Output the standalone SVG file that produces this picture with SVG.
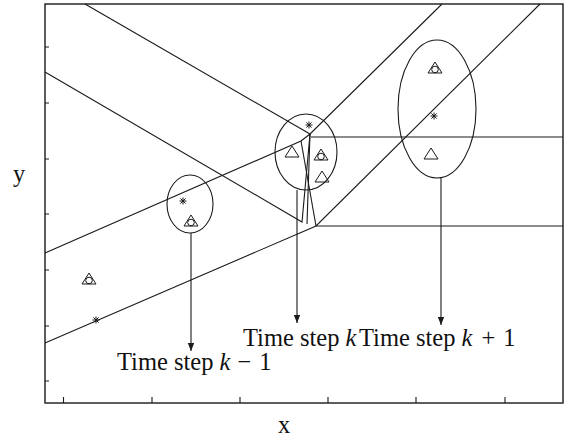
<svg xmlns="http://www.w3.org/2000/svg" width="566" height="438" viewBox="0 0 566 438">
<style>
.ln{fill:none;stroke:#1a1a1a;stroke-width:1.1}
.fr{fill:none;stroke:#1a1a1a;stroke-width:1.4}
.mk{fill:none;stroke:#1a1a1a;stroke-width:1}
.lbl{font-family:"Liberation Serif","Times New Roman",serif;font-size:24.5px;fill:#111}
.it{font-style:italic}
</style>
<defs>
<marker id="ah" viewBox="0 0 10 10" refX="10" refY="5" markerWidth="8" markerHeight="8" markerUnits="userSpaceOnUse" orient="auto">
<path d="M0,1 L10,5 L0,9 z" fill="#1a1a1a"/>
</marker>
<g id="star" class="mk"><path d="M-3.5,0H3.5M0,-3.5V3.5M-2.6,-2.6L2.6,2.6M-2.6,2.6L2.6,-2.6"/></g>
<g id="tri" class="mk"><path d="M0,-6L7,5H-7Z"/></g>
<g id="trio" class="mk"><path d="M0,-6L7,5H-7Z"/><circle cx="0" cy="1.5" r="3.3"/></g>
</defs>
<g id="frame">
<rect class="fr" x="45" y="4" width="518" height="399"/>
<path class="ln" d="M63.5,403v-6M152,403v-6M240,403v-6M328,403v-6M416,403v-6M505,403v-6"/>
<path class="ln" d="M45,47h4M45,103h4M45,159h4M45,214h4M45,270h4M45,326h4M45,381h4"/>
</g>
<g id="connectors">
<path class="ln" d="M85,4 L310,134"/>
<path class="ln" d="M45,72 L302,222 L310,134"/>
<path class="ln" d="M45,253 L301,141 L310,134 L442,4"/>
<path class="ln" d="M45,343 L316,226 L540,4"/>
<path class="ln" d="M301,141 L316,226"/>
<path class="ln" d="M310,134 L307,224"/>
<path class="ln" d="M311,137 H563"/>
<path class="ln" d="M316,226 H563"/>
<path class="ln" d="M191,233 V351" marker-end="url(#ah)"/>
<path class="ln" d="M297,190 V323" marker-end="url(#ah)"/>
<path class="ln" d="M441,178 V325" marker-end="url(#ah)"/>
</g>
<g id="step-k-minus-1">
<ellipse class="ln" cx="190" cy="204" rx="23" ry="29"/>
<use href="#star" x="183" y="201"/>
<use href="#trio" x="191" y="221"/>
</g>
<g id="step-k">
<ellipse class="ln" cx="306" cy="152" rx="31" ry="38"/>
<use href="#star" x="309" y="125"/>
<use href="#tri" x="292" y="152"/>
<use href="#trio" x="321" y="155"/>
<use href="#tri" x="322" y="177"/>
</g>
<g id="step-k-plus-1">
<ellipse class="ln" cx="437" cy="109" rx="39" ry="69"/>
<use href="#trio" x="435" y="68"/>
<use href="#star" x="434" y="116"/>
<use href="#tri" x="431" y="154"/>
</g>
<g id="early">
<use href="#trio" x="89" y="279"/>
<use href="#star" x="96" y="320"/>
</g>
<g id="labels">
<text class="lbl" x="243" y="346">Time step <tspan class="it">k</tspan></text>
<text class="lbl" x="359" y="346">Time step <tspan class="it">k</tspan><tspan dx="9">+</tspan><tspan dx="8">1</tspan></text>
<text class="lbl" x="117" y="370">Time step <tspan class="it">k</tspan><tspan dx="7">−</tspan><tspan dx="8">1</tspan></text>
<text class="lbl" x="278" y="433">x</text>
<text class="lbl" x="13" y="182">y</text>
</g>
</svg>
